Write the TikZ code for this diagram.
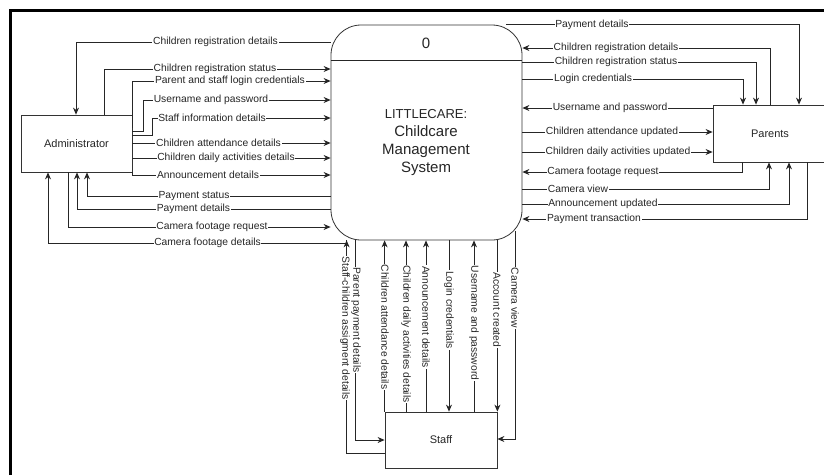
\documentclass[tikz,border=0pt]{standalone}
\usepackage{fontspec}
\setmainfont{Liberation Sans}
\usetikzlibrary{arrows.meta}
\begin{document}
\begin{tikzpicture}[x=1pt,y=-1pt,
  ln/.style={draw=black!85, line width=0.8pt},
  arr/.style={ln, -{Stealth[length=7pt,width=6pt]}},
  box/.style={draw=black!80, line width=0.8pt, fill=white, font=\fontsize{11}{13}\selectfont, text=black!85},
  lbl/.style={fill=white, inner sep=0.6pt, font=\fontsize{10.3}{12}\selectfont, text=black!85},
  vlbl/.style={lbl, rotate=-90}]
\useasboundingbox (0,0) rectangle (824,475);
\clip (0,0) rectangle (824,475);
\fill[white] (0,0) rectangle (824,475);
% frame
\draw[line width=3pt] (10,475) -- (10,10) -- (824,10);
% nodes
\node[box, minimum width=111pt, minimum height=57pt] (admin) at (76.5,143.5) {Administrator};
\node[box, minimum width=140pt, minimum height=57pt] (parents) at (783,133.5) {};
\node[font=\fontsize{11}{13}\selectfont, text=black!85] (parentstxt) at (770,133.5) {Parents};
\node[box, minimum width=112pt, minimum height=56pt] (staff) at (441,440) {Staff};
\node[box, rounded corners=30pt, minimum width=191pt, minimum height=215pt] (proc) at (426.5,132.5) {};
\draw[ln] (proc.west |- 0,60) -- (proc.east |- 0,60);
\node[font=\fontsize{15}{18}\selectfont, text=black!85] (pid) at (426,43) {0};
\node[font=\fontsize{15}{18}\selectfont, text=black!85, align=center] (ptitle) at (426,142.5)
  {{\fontsize{13}{18}\selectfont LITTLECARE:}\\Childcare\\Management\\System};
% ---------- left side ----------
\draw[arr] (proc.west |- 0,42) -| (admin.north -| 76,0);
\draw[arr] (admin.north -| 104,0) |- (proc.west |- 0,69);
\draw[arr] (admin.east |- 0,128) |- (proc.west |- 0,81);
\draw[arr] (admin.east |- 0,131) -- ++(11,0) |- (proc.west |- 0,100);
\draw[arr] (admin.east |- 0,135) -- ++(20,0) |- (proc.west |- 0,118);
\draw[arr] (admin.east |- 0,143) -- (proc.west |- 0,143);
\draw[arr] (admin.east |- 0,158) -- (proc.west |- 0,158);
\draw[arr] (admin.south east) |- (proc.west |- 0,175);
\draw[arr] (proc.west |- 0,196) -| (admin.south -| 87,0);
\draw[arr] (proc.west |- 0,209) -| (admin.south -| 77,0);
\draw[arr] (admin.south -| 68,0) |- (proc.west |- 0,227);
\draw[arr] ([xshift=16pt]proc.south west) -- ++(0,3) -| (admin.south -| 48,0);
\node[lbl] (l1) at (215.5,42) {Children registration details};
\node[lbl] (l2) at (215,69) {Children registration status};
\node[lbl] (l3) at (230,81) {Parent and staff login credentials\ };
\node[lbl] (l4) at (211,100) {Username and password};
\node[lbl] (l5) at (212,118) {Staff information details};
\node[lbl] (l6) at (218.5,143) {Children attendance details\ };
\node[lbl] (l7) at (226,158) {Children daily activities details\ };
\node[lbl] (l8) at (208,175) {Announcement details};
\node[lbl] (l9) at (194,196) {Payment status};
\node[lbl] (l10) at (193.5,209) {Payment details};
\node[lbl] (l11) at (212,227) {Camera footage request};
\node[lbl] (l12) at (207.5,243) {Camera footage details};
% ---------- bottom side ----------
\draw[arr] (staff.west |- 0,453) -| ([xshift=16pt]proc.south west);
\draw[arr] (proc.south -| 355,0) |- (staff.west |- 0,440);
\draw[arr] (staff.north west) -- (proc.south -| staff.north west);
\draw[arr] (staff.north -| 406,0) -- (proc.south -| 406,0);
\draw[arr] (staff.north -| 426,0) -- (proc.south -| 426,0);
\draw[arr] (proc.south -| 449,0) -- (staff.north -| 449,0);
\draw[arr] (staff.north -| 474,0) -- (proc.south -| 474,0);
\draw[arr] (proc.south -| staff.north east) -- (staff.north east);
\draw[arr] ([xshift=-7pt,yshift=9pt]proc.south east) |- (staff.east |- 0,439);
\node[vlbl] (b1) at (345,328) {Staff-children assigment details};
\node[vlbl] (b2) at (356,320) {Parent payment details};
\node[vlbl] (b3) at (385,327) {Children attendance details};
\node[vlbl] (b4) at (406,334) {Children daily activities details};
\node[vlbl] (b5) at (426,317) {Announcement details};
\node[vlbl] (b6) at (449,310) {Login credentials};
\node[vlbl] (b7) at (474,323) {Username and password};
\node[vlbl] (b8) at (497,310) {Account created};
\node[vlbl] (b9) at (515,298) {Camera view};
% ---------- right side ----------
\draw[arr] ([xshift=-16pt]proc.north east) -| (parents.north -| 799,0);
\draw[arr] (parents.north -| 770,0) |- (proc.east |- 0,48);
\draw[arr] (proc.east |- 0,62) -| (parents.north -| 756,0);
\draw[arr] (proc.east |- 0,79) -| (parents.north -| 743,0);
\draw[arr] (parents.west |- 0,108) -- (proc.east |- 0,108);
\draw[arr] (proc.east |- 0,132) -- (parents.west |- 0,132);
\draw[arr] (proc.east |- 0,152) -- (parents.west |- 0,152);
\draw[arr] (parents.south -| 742,0) |- (proc.east |- 0,172);
\draw[arr] (proc.east |- 0,189) -| (parents.south -| 769,0);
\draw[arr] (proc.east |- 0,204) -| (parents.south -| 789,0);
\draw[arr] (parents.south -| 807,0) |- (proc.east |- 0,219);
\node[lbl] (r1) at (592,25) {Payment details};
\node[lbl] (r2) at (616,48) {Children registration details};
\node[lbl] (r3) at (616,62) {Children registration status};
\node[lbl] (r4) at (593,79) {Login credentials};
\node[lbl] (r5) at (610,108) {Username and password};
\node[lbl] (r6) at (612,132) {Children attendance updated};
\node[lbl] (r7) at (618,152) {Children daily activities updated};
\node[lbl] (r8) at (603,172) {Camera footage request};
\node[lbl] (r9) at (578,189) {Camera view};
\node[lbl] (r10) at (603,204) {Announcement updated};
\node[lbl] (r11) at (594,219) {Payment transaction};
\end{tikzpicture}
\end{document}
